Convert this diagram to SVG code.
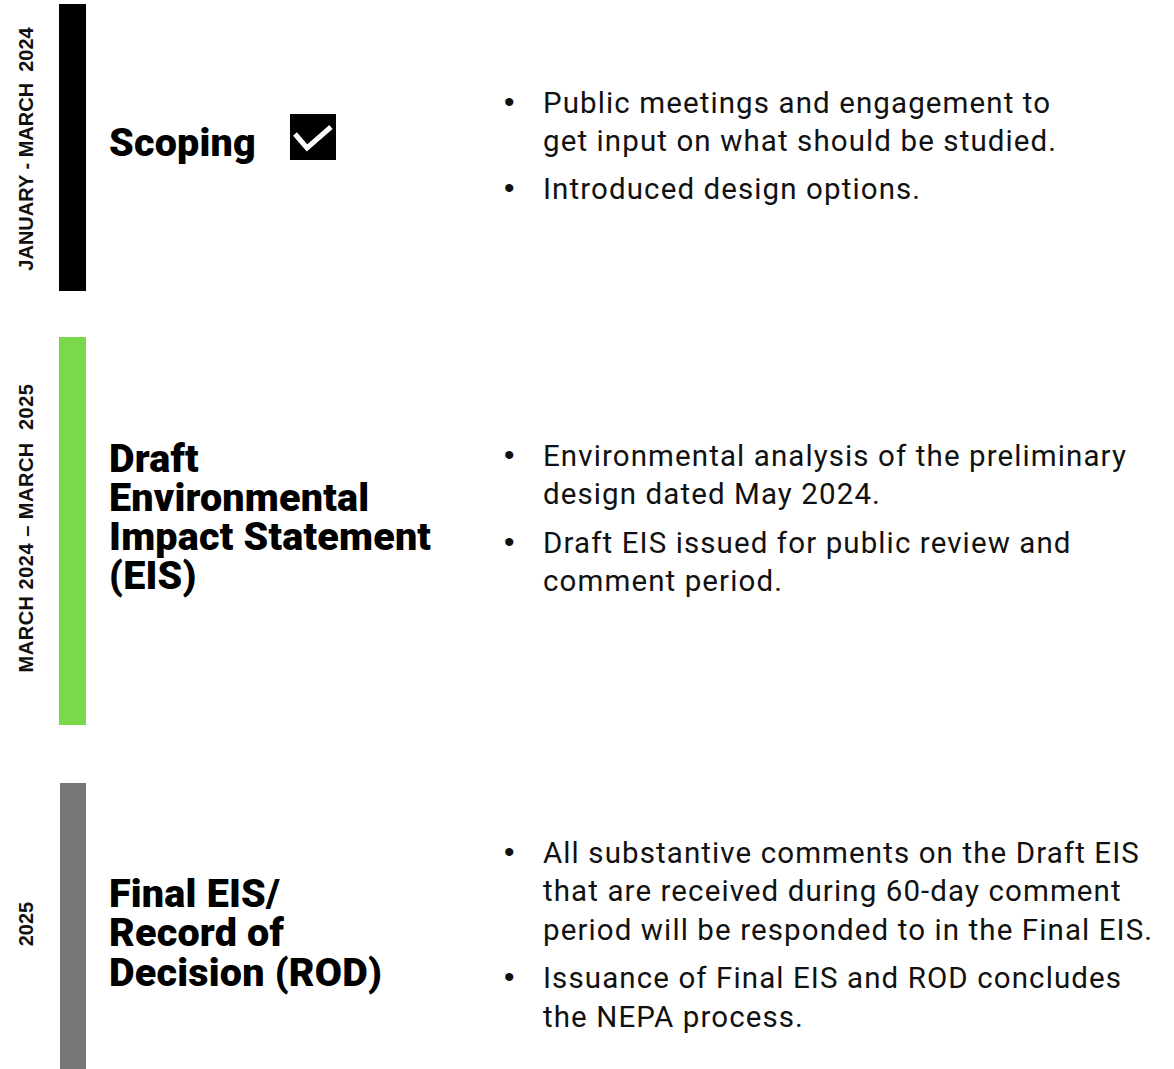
<svg xmlns="http://www.w3.org/2000/svg" width="1174" height="1069" viewBox="0 0 1174 1069">
<style>
.date{font-family:"Liberation Sans",Arial,sans-serif;font-weight:bold;font-size:20px;fill:#111}
.title{font-family:Roboto,"Inter",sans-serif;font-weight:900;font-size:39.5px;fill:#000;letter-spacing:0.2px}
.body{font-family:Roboto,"Open Sans",sans-serif;font-size:29.5px;fill:#111;letter-spacing:1.1px}
.bul{font-family:"Liberation Sans",Arial,sans-serif;font-size:30px;fill:#111}
</style>
<rect width="1174" height="1069" fill="#fff"/>
<g id="phase-scoping">
<rect x="59" y="4" width="27" height="287" fill="#000"/>
<text class="date" transform="translate(33,149) rotate(-90)" text-anchor="middle" xml:space="preserve">JANUARY - MARCH  2024</text>
<text class="title" x="109" y="156">Scoping</text>
<rect x="290" y="114" width="46" height="46" fill="#000"/>
<polyline points="295,134 307,148 331,127" fill="none" stroke="#fff" stroke-width="5"/>
<text class="bul"><tspan x="504" y="112">•</tspan><tspan x="504" y="198">•</tspan></text>
<text class="body"><tspan x="543" y="113">Public meetings and engagement to</tspan><tspan x="543" y="151">get input on what should be studied.</tspan><tspan x="543" y="199">Introduced design options.</tspan></text>
</g>
<g id="phase-draft">
<rect x="59" y="337" width="27" height="388" fill="#7ad84b"/>
<text class="date" transform="translate(33,528) rotate(-90)" text-anchor="middle" style="letter-spacing:0.5px" xml:space="preserve">MARCH 2024 – MARCH  2025</text>
<text class="title"><tspan x="109" y="472">Draft</tspan><tspan x="109" y="511">Environmental</tspan><tspan x="109" y="550">Impact Statement</tspan><tspan x="109" y="589">(EIS)</tspan></text>
<text class="bul"><tspan x="504" y="465">•</tspan><tspan x="504" y="552">•</tspan></text>
<text class="body"><tspan x="543" y="466">Environmental analysis of the preliminary</tspan><tspan x="543" y="504">design dated May 2024.</tspan><tspan x="543" y="553">Draft EIS issued for public review and</tspan><tspan x="543" y="591">comment period.</tspan></text>
</g>
<g id="phase-final">
<rect x="60" y="783" width="26" height="286" fill="#777"/>
<text class="date" transform="translate(33,924) rotate(-90)" text-anchor="middle">2025</text>
<text class="title"><tspan x="109" y="907">Final EIS/</tspan><tspan x="109" y="946">Record of</tspan><tspan x="109" y="986">Decision (ROD)</tspan></text>
<text class="bul"><tspan x="504" y="862">•</tspan><tspan x="504" y="987">•</tspan></text>
<text class="body"><tspan x="543" y="863">All substantive comments on the Draft EIS</tspan><tspan x="543" y="901">that are received during 60-day comment</tspan><tspan x="543" y="940">period will be responded to in the Final EIS.</tspan><tspan x="543" y="988">Issuance of Final EIS and ROD concludes</tspan><tspan x="543" y="1027">the NEPA process.</tspan></text>
</g>
<g id="connectors"/>
</svg>
